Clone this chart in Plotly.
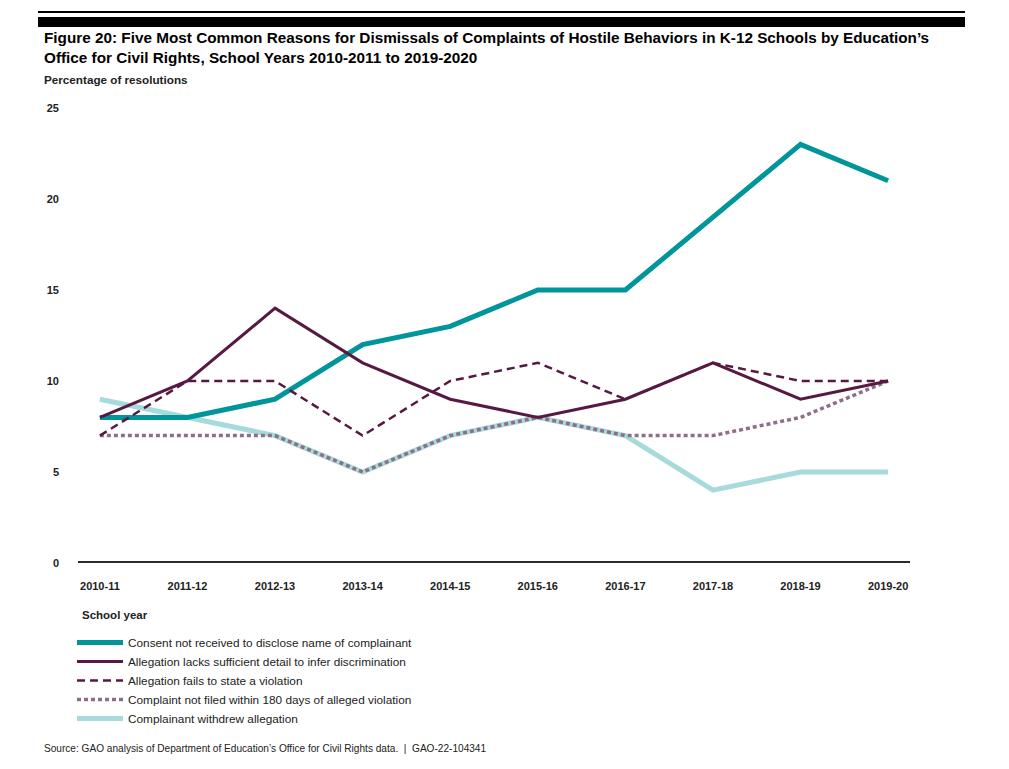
import plotly.graph_objects as go

years = ["2010-11", "2011-12", "2012-13", "2013-14", "2014-15",
         "2015-16", "2016-17", "2017-18", "2018-19", "2019-20"]

consent = [8, 8, 9, 12, 13, 15, 15, 19, 23, 21]
lacks_detail = [8, 10, 14, 11, 9, 8, 9, 11, 9, 10]
fails_state = [7, 10, 10, 7, 10, 11, 9, 11, 10, 10]
not_filed = [7, 7, 7, 5, 7, 8, 7, 7, 8, 10]
withdrew = [9, 8, 7, 5, 7, 8, 7, 4, 5, 5]

y_ticks = [0, 5, 10, 15, 20, 25]

# page has an 8px body margin, so positions are offset by 8
OFF = 8
W, H = 1009, 769
L, T = 78 - OFF, 108 - OFF
R = W - (910 - OFF)
B = H - (563 - OFF)


def px(x):
    return (x - OFF - L) / (W - L - R)


def py(y):
    return (H - B - (y - OFF)) / (H - T - B)


fig = go.Figure()

fig.add_trace(go.Scatter(x=years, y=withdrew, mode="lines", legendrank=5,
                         name="Complainant withdrew allegation",
                         line=dict(color="#a6dadb", width=5)))
fig.add_trace(go.Scatter(x=years, y=not_filed, mode="lines", legendrank=4,
                         name="Complaint not filed within 180 days of alleged violation",
                         line=dict(color="#8f6f88", width=3.5, dash="4px,3px")))
fig.add_trace(go.Scatter(x=years, y=consent, mode="lines", legendrank=1,
                         name="Consent not received to disclose name of complainant",
                         line=dict(color="#00959a", width=5)))
fig.add_trace(go.Scatter(x=years, y=fails_state, mode="lines", legendrank=3,
                         name="Allegation fails to state a violation",
                         line=dict(color="#561a42", width=2.5, dash="8px,5px")))
fig.add_trace(go.Scatter(x=years, y=lacks_detail, mode="lines", legendrank=2,
                         name="Allegation lacks sufficient detail to infer discrimination",
                         line=dict(color="#561a42", width=3)))

tick_font = dict(size=11, color="#222", family="Liberation Sans, Arial", weight="bold")

fig.update_layout(
    width=W, height=H,
    margin=dict(l=L, r=R, t=T, b=B, autoexpand=False),
    paper_bgcolor="white", plot_bgcolor="white",
    font=dict(family="Liberation Sans, Arial", color="#222"),
    showlegend=True,
    legend=dict(x=px(72), y=py(628), xanchor="left", yanchor="top",
                font=dict(size=11.8, color="#222"),
                itemwidth=46, tracegroupgap=0, bgcolor="rgba(0,0,0,0)"),
)
fig.update_xaxes(type="category", showgrid=False, zeroline=False, showline=False,
                 range=[-0.25, 9.25], ticks="", tickfont=tick_font,
                 ticklabelstandoff=15)
fig.update_yaxes(showgrid=False, zeroline=False, showline=False,
                 range=[0, 25], tickvals=y_ticks, ticks="", tickfont=tick_font,
                 ticklabelstandoff=18)

# axis baseline at 0
fig.add_shape(type="line", xref="paper", yref="y", x0=0, x1=1, y0=0, y1=0,
              line=dict(color="#2b2b2b", width=4), layer="above")

# header rules
fig.add_shape(type="line", xref="paper", yref="paper", x0=px(38), x1=px(965),
              y0=py(12), y1=py(12), line=dict(color="black", width=2))
fig.add_shape(type="rect", xref="paper", yref="paper", x0=px(38), x1=px(965),
              y0=py(27), y1=py(17), line=dict(width=0), fillcolor="black")

fig.add_annotation(xref="paper", yref="paper", x=px(42), y=py(27),
                   xanchor="left", yanchor="top", align="left", showarrow=False,
                   text="<b>Figure 20: Five Most Common Reasons for Dismissals of Complaints of Hostile Behaviors in K-12 Schools by Education’s<br>Office for Civil Rights, School Years 2010-2011 to 2019-2020</b>",
                   font=dict(size=15.3, color="black"))
fig.add_annotation(xref="paper", yref="paper", x=px(42), y=py(79),
                   xanchor="left", yanchor="middle", showarrow=False,
                   text="<b>Percentage of resolutions</b>",
                   font=dict(size=11.7, color="#222"))
fig.add_annotation(xref="paper", yref="paper", x=px(80), y=py(615),
                   xanchor="left", yanchor="middle", showarrow=False,
                   text="<b>School year</b>",
                   font=dict(size=11.5, color="#222"))
fig.add_annotation(xref="paper", yref="paper", x=px(42), y=py(748),
                   xanchor="left", yanchor="middle", showarrow=False,
                   text="Source: GAO analysis of Department of Education’s Office for Civil Rights data.  |  GAO-22-104341",
                   font=dict(size=10.1, color="#222"))

fig.write_html("out.html")
